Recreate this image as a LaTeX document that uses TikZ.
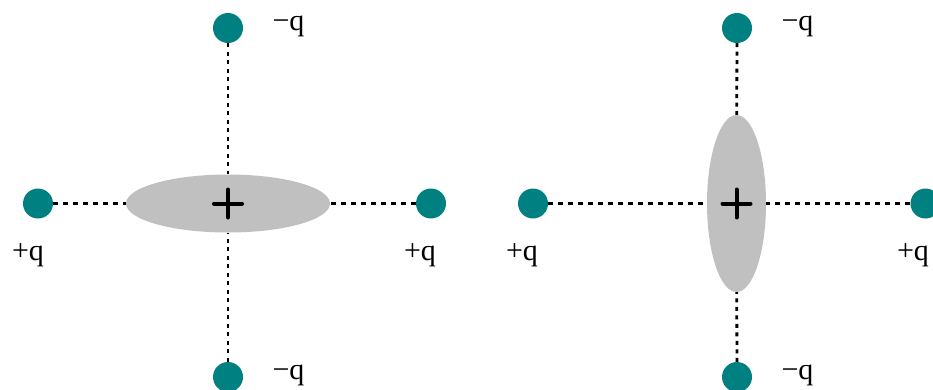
\documentclass[tikz,border=0pt]{standalone}
\usepackage{fontspec}
\setmainfont{Liberation Serif}
\usetikzlibrary{shapes.geometric}
\definecolor{chargeteal}{RGB}{0,128,128}
\definecolor{molgray}{RGB}{192,192,192}
\begin{document}
\begin{tikzpicture}[x=1pt,y=-1pt,
  charge/.style={circle,fill=chargeteal,inner sep=0pt,minimum size=30pt},
  mol/.style={ellipse,fill=molgray,inner sep=0pt},
  hdots/.style={line width=3.8pt,dash pattern=on 5pt off 5pt},
  vdots/.style={line width=2.8pt,dash pattern=on 4pt off 4.5pt},
  crossline/.style={line width=4pt,line cap=round},
  lab/.style={inner sep=0pt,anchor=base,font=\fontsize{30}{36}\selectfont}]
\useasboundingbox (0,0) rectangle (933,389);
% left diagram
\node[mol,minimum width=204pt,minimum height=58pt] (C1) at (228,203.5) {};
\node[charge] (T1) at (228,28) {};
\node[charge] (B1) at (228,377) {};
\node[charge] (L1) at (38,203.5) {};
\node[charge] (R1) at (431,203.5) {};
\draw[vdots] (T1) -- (C1);
\draw[vdots] (B1) -- (C1);
\draw[hdots] (L1) -- (C1);
\draw[hdots] (R1) -- (C1);
\draw[crossline] ([xshift=-14pt]C1.center) -- ([xshift=14pt]C1.center);
\draw[crossline] ([yshift=-14pt]C1.center) -- ([yshift=14pt]C1.center);
\node[lab] (tq1) at (288.5,30) {−q};
\node[lab] (bq1) at (288.5,379) {−q};
\node[lab] (lq1) at (28,260) {+q};
\node[lab] (rq1) at (420,260) {+q};
% right diagram
\node[mol,minimum width=59pt,minimum height=177pt] (C2) at (736.5,203.5) {};
\node[charge] (T2) at (737,28) {};
\node[charge] (B2) at (737,377) {};
\node[charge] (L2) at (533,203.5) {};
\node[charge] (R2) at (925.5,203.5) {};
\draw[vdots] (T2) -- (C2);
\draw[vdots] (B2) -- (C2);
\draw[hdots] (L2) -- (C2);
\draw[hdots] (R2) -- (C2);
\draw[crossline] ([xshift=-14pt]C2.center) -- ([xshift=14pt]C2.center);
\draw[crossline] ([yshift=-14pt]C2.center) -- ([yshift=14pt]C2.center);
\node[lab] (tq2) at (797.5,30) {−q};
\node[lab] (bq2) at (797.5,379) {−q};
\node[lab] (lq2) at (522,260) {+q};
\node[lab] (rq2) at (913,260) {+q};
\end{tikzpicture}
\end{document}
